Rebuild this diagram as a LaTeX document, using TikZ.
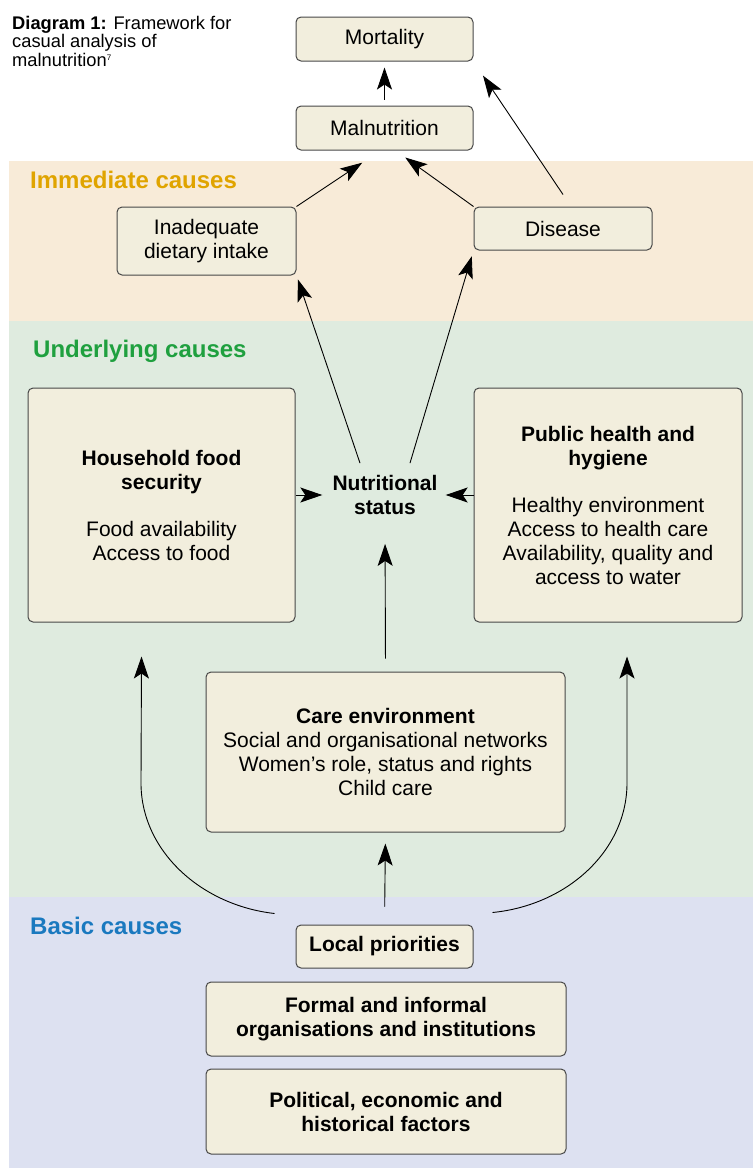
\documentclass[tikz,border=0pt]{standalone}
\usepackage{fontspec}
\setmainfont{Liberation Sans}
\usetikzlibrary{arrows.meta}
\definecolor{boxfill}{HTML}{F2EEDD}
\definecolor{boxline}{HTML}{474747}
\definecolor{immfill}{HTML}{F8EBD8}
\definecolor{undfill}{HTML}{DFEBDF}
\definecolor{basfill}{HTML}{DDE1F1}
\definecolor{immtext}{HTML}{E0A400}
\definecolor{undtext}{HTML}{1FA03F}
\definecolor{bastext}{HTML}{1A79BF}
\tikzset{
    causebox/.style = {draw = boxline, fill = boxfill, rounded corners = 5pt, line width = 1pt, align = center, font = \fontsize{21}{24}\selectfont},
    causebold/.style = {causebox, font = \bfseries\fontsize{21}{24}\selectfont},
    causearrow/.style = {line width = 0.9pt, -{Stealth[length = 22pt, width = 15pt, inset = 5pt]}},
    bandlabel/.style = {anchor = base west, inner sep = 0pt, font = \bfseries\fontsize{24}{28}\selectfont}
}
\begin{document}
\begin{tikzpicture}[x = 1pt, y = -1pt]
            \useasboundingbox (0,0) rectangle (753,1168);
            \foreach \ya/\yb/\col in {161/321/immfill, 321/897/undfill, 897/1168/basfill} {
                \fill[\col] (9,\ya) rectangle (753,\yb);
            }
            \node[anchor = north west, align = left, inner sep = 0pt, font = \fontsize{18.3}{18.5}\selectfont] (title) at (12,16) {\textbf{Diagram 1:} Framework for\\casual analysis of\\malnutrition\textsuperscript{\footnotesize 7}};
            \node[bandlabel, text = immtext] (immlabel) at (30,188) {Immediate causes};
            \node[bandlabel, text = undtext] (undlabel) at (33,357) {Underlying causes};
            \node[bandlabel, text = bastext] (baslabel) at (30,934) {Basic causes};
            \begin{scope}[every node/.append style = {inner sep = 0pt}]
                \node[causebox, minimum width = 177pt, minimum height = 44pt] (mortal) at (384.5,39) {Mortality};
                \node[causebox, minimum width = 177pt, minimum height = 44pt] (malnut) at (384.5,128) {Malnutrition};
                \node[causebox, minimum width = 179pt, minimum height = 68pt] (intake) at (206.5,241) {Inadequate\\dietary intake};
                \node[causebox, minimum width = 178pt, minimum height = 43pt] (disease) at (563,228.5) {Disease};
                \node[causebox, minimum width = 267pt, minimum height = 234pt] (household) at (161.5,505) {\textbf{Household food}\\\textbf{security}\\[23pt]Food availability\\Access to food};
                \node[align = center, font = \bfseries\fontsize{21}{24}\selectfont] (nutri) at (385,495) {Nutritional\\status};
                \node[causebox, minimum width = 268pt, minimum height = 234pt] (publich) at (608,505) {\textbf{Public health and}\\\textbf{hygiene}\\[23pt]Healthy environment\\Access to health care\\Availability, quality and\\access to water};
                \node[causebox, minimum width = 359pt, minimum height = 160pt] (care) at (385.5,752) {\textbf{Care environment}\\Social and organisational networks\\Women's role, status and rights\\Child care};
                \node[causebold, minimum width = 177pt, minimum height = 43pt] (local) at (384.5,946.5) {Local priorities};
                \node[causebold, minimum width = 360pt, minimum height = 74pt] (formal) at (386,1019) {Formal and informal\\organisations and institutions};
                \node[causebold, minimum width = 360pt, minimum height = 85pt] (political) at (386,1111.5) {Political, economic and\\historical factors};
            \end{scope}
            \draw[causearrow, shorten <= 6pt, shorten >= 6pt] (malnut.north) -- (mortal.south);
            \draw[causearrow, shorten >= 22pt] (intake.north east) -- ([xshift = -4pt]malnut.south);
            \draw[causearrow, shorten >= 12pt] (disease.north west) -- ([xshift = 11pt]malnut.south);
            \draw[causearrow, shorten >= 17pt] ([yshift = 12pt]disease.north) -- (mortal.south east);
            \draw[causearrow, shorten >= 4pt] ([xshift = -25pt, yshift = 12pt]nutri.north) -- (intake.south east);
            \draw[causearrow, shorten >= 6pt] ([xshift = 25pt, yshift = 12pt]nutri.north) -- (disease.south west);
            \draw[causearrow, shorten >= 10pt] (household.east |- nutri.west) -- (nutri.west);
            \draw[causearrow, shorten >= 8pt] (publich.west |- nutri.east) -- (nutri.east);
            \draw[causearrow, shorten <= 13pt, shorten >= 29pt] (care.north) -- (nutri.south);
            \draw[causearrow, shorten <= 18pt, shorten >= 11pt] (local.north) -- (care.south);
            \draw[causearrow] ([xshift = -21pt, yshift = 11pt]local.north west) .. controls (200,905) and (141,850) .. (141,783) -- ([xshift = -20pt, yshift = -34pt]household.south);
            \draw[causearrow] ([xshift = 19pt, yshift = 12pt]local.north east) .. controls (568,905) and (627,850) .. (627,783) -- ([xshift = 19pt, yshift = -34pt]publich.south);
        \end{tikzpicture}
\end{document}
